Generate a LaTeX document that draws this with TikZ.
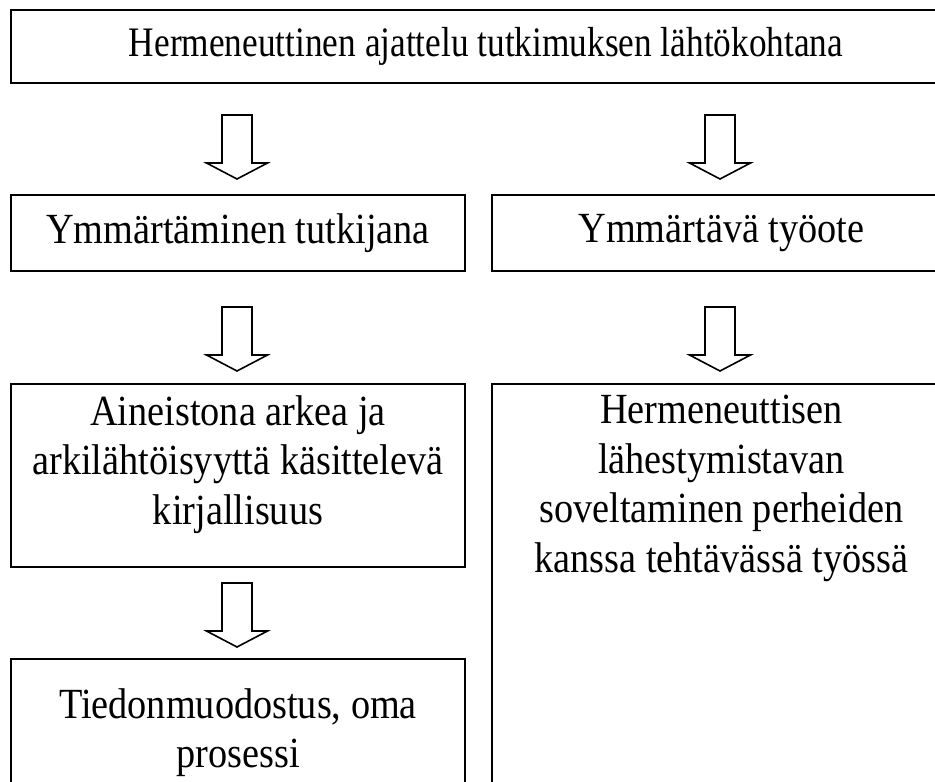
\documentclass[tikz,border=0pt]{standalone}
\usepackage{fontspec}
\setmainfont{Liberation Serif}
\newfontfamily\reffont[FakeStretch=0.89]{Liberation Serif}
\newfontfamily\headfont[FakeStretch=0.84]{Liberation Serif}
\usetikzlibrary{positioning}

\tikzset{
    blockdown/.pic={
        \draw[line width=1.6pt, line join=miter] (-15,-32) -- (15,-32) -- (15,16) -- (30.5,16)
            -- (0,32) -- (-30.5,16) -- (-15,16) -- cycle;
    }
}

\begin{document}
\begin{tikzpicture}[x=1pt, y=-1pt,
    box/.style={draw, line width=2pt, rectangle, inner sep=0pt, anchor=north west},
    txt/.style={align=center, inner sep=0pt, font=\reffont\fontsize{43}{49.5}\selectfont}]
    \useasboundingbox (0,0) rectangle (935,782);
    \clip (0,0) rectangle (935,782);
    % boxes
    \node[box, minimum width=940pt, minimum height=73pt] (hl) at (10,9) {};
    \node[box, minimum width=454pt, minimum height=76pt] (ymm) at (10,194) {};
    \node[box, minimum width=459pt, minimum height=76pt] (tyo) at (491,194) {};
    \node[box, minimum width=454pt, minimum height=183pt] (ain) at (10,383) {};
    \node[box, minimum width=459pt, minimum height=420pt] (her) at (491,383) {};
    \node[box, minimum width=454pt, minimum height=150pt] (tie) at (10,658) {};
    % texts
    \node[txt, font=\headfont\fontsize{42}{49.5}\selectfont, xshift=5pt] (hlT) at (hl.center) {Hermeneuttinen ajattelu tutkimuksen lähtökohtana};
    \node[txt] (ymmT) at (ymm.center) {Ymmärtäminen tutkijana};
    \node[txt] (tyoT) at (tyo.center) {Ymmärtävä työote};
    \node[txt, below=12pt of ain.north] (ainT) {Aineistona arkea ja\\arkilähtöisyyttä käsittelevä\\kirjallisuus};
    \node[txt, below=12pt of her.north] (herT) {Hermeneuttisen\\lähestymistavan\\soveltaminen perheiden\\kanssa tehtävässä työssä};
    \node[txt, below=30pt of tie.north] (tieT) {Tiedonmuodostus, oma\\prosessi};
    % arrows
    \pic (a1) at (237,147) {blockdown};
    \pic (a2) at (720,147) {blockdown};
    \pic (a3) at (237,339) {blockdown};
    \pic (a4) at (720,339) {blockdown};
    \pic (a5) at (237,615) {blockdown};
\end{tikzpicture}
\end{document}
